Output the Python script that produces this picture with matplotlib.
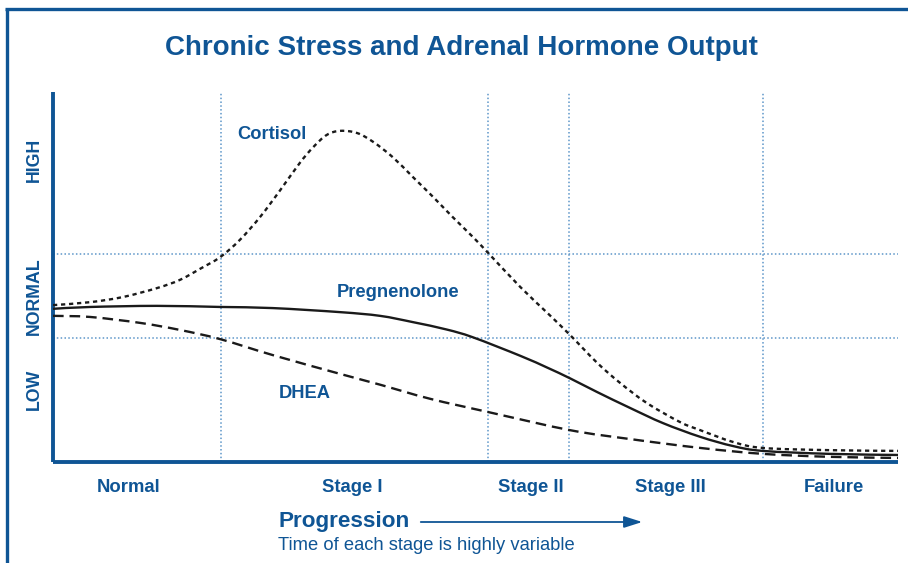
import matplotlib.pyplot as plt
from matplotlib.lines import Line2D
from matplotlib.path import Path
from matplotlib.patches import PathPatch, FancyArrowPatch

plt.rcParams['font.family'] = ['Liberation Sans', 'DejaVu Sans']

BLUE = '#0f5595'
GRID = '#5d96c9'

# time axis 0..100, hormone level 0..100
cortisol_x = [0, 4.4, 8.3, 12.3, 15.0, 17.4, 19.8, 22.1, 24.5, 26.9, 29.2, 30.8, 32.4, 34.0,
              36.0, 37.9, 40.2, 42.6, 45.0, 47.3, 49.7, 51.5, 55.3, 58.5, 61.2, 64.4, 67.1,
              70.3, 74.2, 76.6, 80.5, 84.0, 91.9, 100]
cortisol_y = [42.4, 43.2, 44.6, 47.0, 49.2, 52.2, 55.4, 60.0, 66.2, 73.5, 80.8, 85.1, 88.4, 89.5,
              88.9, 86.5, 82.4, 77.0, 71.6, 66.2, 60.8, 56.5, 47.3, 40.3, 34.3, 26.8, 21.4,
              15.9, 10.8, 8.6, 5.4, 3.8, 3.2, 3.0]

preg_x = [0, 4.4, 12.3, 19.8, 26.0, 34.0, 38.7, 42.6, 46.6, 49.7, 55.3, 58.5, 61.2,
          64.4, 68.3, 72.2, 76.6, 80.5, 84.0, 91.9, 100]
preg_y = [41.4, 41.9, 42.2, 41.9, 41.6, 40.5, 39.5, 37.8, 35.8, 33.7, 28.7, 25.5, 22.6,
          18.9, 14.6, 10.5, 6.8, 4.3, 3.0, 2.2, 1.9]

dhea_x = [0, 4.4, 10.3, 15.0, 19.8, 26.0, 34.0, 38.7, 44.6, 51.7, 61.2, 68.3, 76.6, 84.0,
          91.9, 100]
dhea_y = [39.5, 39.2, 37.6, 35.7, 33.2, 28.9, 23.8, 20.9, 17.1, 13.4, 8.6, 6.2, 3.8, 2.2,
          1.4, 1.1]

stage_bounds = [19.9, 51.5, 61.1, 84.0]
normal_band = [33.5, 56.2]

stage_names = ['Normal', 'Stage I', 'Stage II', 'Stage III', 'Failure']
stage_pos = [9.0, 35.4, 56.6, 73.1, 92.4]
level_names = ['LOW', 'NORMAL', 'HIGH']
level_pos = [19.5, 44.9, 81.6]


def smooth_curve(xs, ys):
    # Catmull-Rom through the read points, drawn as cubic bezier segments
    pts = list(zip(xs, ys))
    verts = [pts[0]]
    codes = [Path.MOVETO]
    n = len(pts)
    for i in range(n - 1):
        p0 = pts[max(i - 1, 0)]
        p1 = pts[i]
        p2 = pts[i + 1]
        p3 = pts[min(i + 2, n - 1)]
        c1 = (p1[0] + (p2[0] - p0[0]) / 6, p1[1] + (p2[1] - p0[1]) / 6)
        c2 = (p2[0] - (p3[0] - p1[0]) / 6, p2[1] - (p3[1] - p1[1]) / 6)
        verts += [c1, c2, p2]
        codes += [Path.CURVE4] * 3
    return Path(verts, codes)


W, H = 908, 563
fig = plt.figure(figsize=(W / 100, H / 100), dpi=100)
ax = fig.add_axes([53 / W, (H - 462) / H, 845 / W, 370 / H])
ax.set_xlim(0, 100)
ax.set_ylim(0, 100)

for xb in stage_bounds:
    ax.axvline(xb, color=GRID, lw=1.1, ls=(0, (1, 1.5)), zorder=1)
for yb in normal_band:
    ax.axhline(yb, color=GRID, lw=1.1, ls=(0, (1, 1.5)), zorder=1)

for xs, ys, style in [(cortisol_x, cortisol_y, (0, (1.8, 1.6))),
                      (preg_x, preg_y, 'solid'),
                      (dhea_x, dhea_y, (0, (4.5, 2.5)))]:
    ax.add_patch(PathPatch(smooth_curve(xs, ys), fill=False, edgecolor='#1a1a1a',
                           lw=1.7, ls=style, zorder=3))

lab = dict(color=BLUE, fontsize=13.2, fontweight='bold', ha='center', va='center')
ax.text(25.9, 88.6, 'Cortisol', **lab)
ax.text(40.8, 45.9, 'Pregnenolone', **lab)
ax.text(29.8, 18.4, 'DHEA', **lab)

for s in ['top', 'right']:
    ax.spines[s].set_visible(False)
for s in ['left', 'bottom']:
    ax.spines[s].set_color(BLUE)
    ax.spines[s].set_linewidth(2.8)
    ax.spines[s].set_capstyle('butt')

ax.set_xticks(stage_pos, stage_names)
ax.set_yticks(level_pos, level_names, rotation=90, va='center')
ax.tick_params(axis='x', length=0, pad=12, labelsize=13.3, labelcolor=BLUE)
ax.tick_params(axis='y', length=0, pad=7, labelsize=12.8, labelcolor=BLUE)
for t in ax.get_xticklabels() + ax.get_yticklabels():
    t.set_fontweight('bold')

fig.text(461 / W, 1 - 48 / H, 'Chronic Stress and Adrenal Hormone Output',
         color=BLUE, fontsize=20, fontweight='bold', ha='center', va='center')
fig.text(278 / W, 1 - 521 / H, 'Progression', color=BLUE, fontsize=16.2,
         fontweight='bold', ha='left', va='center')
fig.text(278 / W, 1 - 545 / H, 'Time of each stage is highly variable', color=BLUE,
         fontsize=13.2, ha='left', va='center')
fig.add_artist(FancyArrowPatch(
    (418 / W, 1 - 522 / H), (645 / W, 1 - 522 / H), transform=fig.transFigure,
    arrowstyle='-|>,head_length=11,head_width=3.5', color=BLUE, lw=1.3, mutation_scale=1))

# page frame (top and left edges)
fig.add_artist(Line2D([5 / W, 1], [1 - 8.5 / H] * 2, transform=fig.transFigure,
                      color=BLUE, lw=2.4, solid_capstyle='butt'))
fig.add_artist(Line2D([6.5 / W] * 2, [0, 1 - 8.5 / H], transform=fig.transFigure,
                      color=BLUE, lw=2.4, solid_capstyle='butt'))

fig.savefig('out.png', dpi=100)
